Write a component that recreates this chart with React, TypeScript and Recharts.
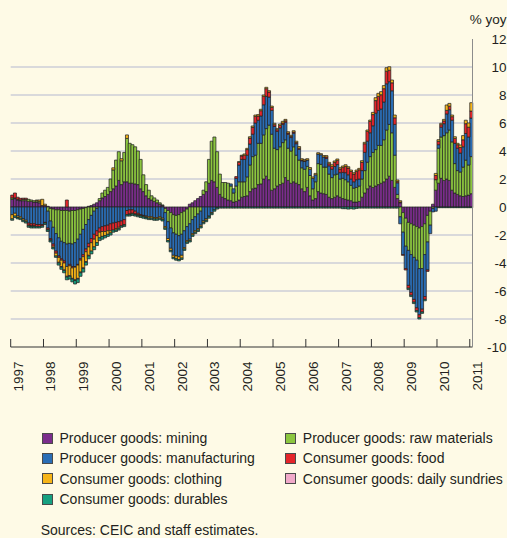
import React from 'react';
import { BarChart, Bar, XAxis, YAxis, CartesianGrid } from 'recharts';

const YEARS = ['1997', '1998', '1999', '2000', '2001', '2002', '2003', '2004', '2005', '2006', '2007', '2008', '2009', '2010', '2011'];
const MONTHS = ['01', '02', '03', '04', '05', '06', '07', '08', '09', '10', '11', '12'];
const Y_TICKS = [-10, -8, -6, -4, -2, 0, 2, 4, 6, 8, 10, 12];
const GRID_VALUES = [-8, -6, -4, -2, 2, 4, 6, 8, 10];

// monthly contributions, % yoy, Jan 1997 - Jan 2011
const mining = [
  0.55, 0.6, 0.5, 0.45, 0.45, 0.45, 0.4, 0.4, 0.35, 0.35, 0.3, 0.1,
  0.1, 0.05, -0.1, -0.15, -0.2, -0.2, -0.25, -0.25, -0.25, -0.3, -0.25, -0.25,
  -0.2, -0.15, -0.1, -0.05, 0.05, 0.1, 0.2, 0.3, 0.45, 0.65, 0.75, 0.9,
  1.1, 1.3, 1.5, 1.9, 1.6, 1.8, 1.8, 1.7, 1.7, 1.65, 1.6, 1.3,
  1.1, 0.8, 0.6, 0.5, 0.4, 0.3, 0.2, 0.1, -0.1, -0.25, -0.4, -0.55,
  -0.6, -0.55, -0.4, -0.3, -0.15, 0.2, 0.3, 0.45, 0.6, 0.75, 0.9, 1.1,
  1.7, 1.9, 1.8, 1.4, 0.9, 0.7, 0.6, 0.5, 0.45, 0.35, 0.4, 0.5,
  0.7, 0.75, 0.8, 1.1, 1.3, 1.35, 1.6, 1.65, 2.0, 2.2, 1.95, 1.2,
  1.3, 1.5, 1.6, 1.7, 2.1, 1.9, 1.7, 1.8, 1.7, 1.6, 1.3, 1.1,
  1.4, 0.8, 0.5, 0.6, 1.1, 1.0, 0.95, 0.9, 0.7, 0.6, 0.7, 0.8,
  0.7, 0.6, 0.55, 0.5, 0.45, 0.35, 0.35, 0.4, 0.7, 1.0, 1.3, 1.5,
  1.4, 1.5, 1.6, 1.7, 1.8, 2.0, 2.2, 1.9, 1.4, 0.6, 0.3, -0.4,
  -0.8, -1.1, -1.2, -1.3, -1.4, -1.5, -1.4, -1.2, -0.6, -0.3, 0.2, 1.2,
  1.7, 2.05, 1.9, 2.0, 1.9, 1.2, 1.0, 0.9, 0.8, 0.75, 0.8, 0.85,
  0.95,
];

const rawMaterials = [
  0.1, 0.05, 0.05, 0.05, 0.1, 0.1, 0.15, 0.1, 0.1, 0.1, 0.1, 0,
  0, -0.3, -0.9, -1.3, -1.7, -2.0, -2.2, -2.3, -2.4, -2.3, -2.4, -2.3,
  -2.1, -1.8, -1.5, -1.2, -0.9, -0.6, -0.3, -0.1, 0.15, 0.35, 0.45, 0.5,
  0.9, 1.35, 1.85, 2.05, 1.7, 2.1, 3.1, 2.85, 2.75, 2.65, 2.4, 2.1,
  1.2, 0.8, 0.6, 0.3, 0.25, 0.2, 0.1, 0.05, -0.3, -0.8, -1.1, -1.3,
  -1.35, -1.5, -1.55, -1.4, -1.25, -1.2, -0.9, -0.7, -0.5, -0.3, 0.3, 0.7,
  1.7, 2.8, 3.2, 2.55, 1.45, 1.05, 1.15, 1.2, 1.05, 0.65, 1.1, 1.3,
  1.1, 1.05, 1.35, 1.9, 2.3, 2.35, 2.95, 2.9, 3.15, 3.4, 3.9, 4.0,
  2.9, 2.6, 2.7, 2.9, 2.7, 2.3, 2.3, 2.5, 2.0, 1.75, 1.5, 1.6,
  1.5, 1.45, 0.8, 1.2, 2.0, 2.05, 1.9, 1.95, 1.65, 1.5, 1.6, 1.55,
  1.3, 1.45, 1.4, 1.3, 1.1, 1.0, 1.05, 1.1, 1.3, 1.6, 1.9, 2.1,
  2.5, 2.6, 2.8, 2.7, 3.0, 3.5, 3.7, 3.4, 2.3, 0.3, -0.7, -1.4,
  -2.0, -2.0, -2.2, -2.3, -2.4, -2.9, -3.0, -2.2, -1.9, -1.0, -0.1, 0.75,
  2.5, 2.95, 3.2, 3.3, 3.6, 3.45, 2.1, 1.7, 1.7, 2.1, 2.55, 2.15,
  2.65,
];

const manufacturing = [
  -0.55, -0.45, -0.65, -0.7, -0.85, -0.95, -1.15, -1.2, -1.2, -1.25, -1.25, -1.25,
  -1.1, -1.2, -1.25, -1.2, -1.25, -1.3, -1.25, -1.3, -1.6, -1.5, -1.6, -1.7,
  -1.8, -1.75, -1.8, -1.75, -1.7, -1.65, -1.65, -1.6, -1.5, -1.4, -1.35, -1.3,
  -1.2, -1.15, -1.1, -1.05, -1.0, -0.9, -0.25, -0.2, -0.2, -0.3, -0.45, -0.55,
  -0.6, -0.65, -0.7, -0.7, -0.75, -0.75, -0.7, -0.8, -1.0, -1.2, -1.45, -1.6,
  -1.55, -1.5, -1.5, -1.2, -1.0, -1.1, -1.0, -1.0, -1.05, -1.0, -1.0, -0.85,
  -0.65, -0.4, -0.2, -0.05, 0, 0, 0, 0, 0.15, 0.3, 0.55, 1.2,
  1.6, 1.6, 1.55, 1.5, 1.6, 2.3, 1.65, 1.95, 2.15, 2.3, 2.0, 1.7,
  1.55, 1.3, 1.35, 1.3, 1.26, 1.0, 0.96, 0.97, 0.82, 0.77, 0.5, 0.55,
  0.45, 0.45, 0.75, 0.5, 0.68, 0.68, 0.72, 0.62, 0.59, 0.6, 0.59, 0.68,
  0.45, 0.42, 0.5, 0.5, 0.45, 0.45, 0.55, 0.5, 0.6, 1.3, 1.5, 1.7,
  1.9, 2.6, 2.5, 2.6, 2.7, 3.3, 3.05, 3.0, 2.2, 0.83, -0.5, -1.6,
  -1.6, -2.5, -2.7, -3.0, -3.4, -3.3, -2.9, -3.0, -2.0, -0.6, -0.25, -0.3,
  0.25, 0.7, 0.85, 1.35, 1.45, 1.55, 1.45, 1.6, 1.35, 1.45, 1.9, 2.0,
  2.75,
];

const food = [
  0.2, 0.35, 0.15, 0.12, 0.08, 0.08, -0.15, -0.15, -0.15, -0.15, -0.15, -0.1,
  -0.05, -0.1, -0.1, -0.15, -0.15, -0.1, -0.1, -0.15, 0.5, -0.1, -0.1, -0.05,
  -0.05, -0.1, -0.15, -0.2, -0.25, -0.3, -0.35, -0.35, -0.3, -0.35, -0.4, -0.4,
  -0.5, -0.5, -0.45, -0.4, -0.35, -0.35, -0.3, -0.3, -0.25, -0.2, -0.1, -0.05,
  -0.05, -0.05, 0, 0, 0, 0, 0, 0, 0, 0, 0, 0,
  0, 0, 0, 0, 0, 0, 0, 0, 0, 0, 0, 0,
  0, 0, 0, 0, 0, 0, 0, 0, 0, 0, 0.12, 0.2,
  0.25, 0.3, 0.4, 0.42, 0.49, 0.47, 0.3, 0.38, 0.6, 0.55, 0.36, 0.21,
  0.13, 0.12, 0.18, 0.1, 0.1, 0.08, 0.08, 0.08, 0.08, 0.08, 0.05, 0.05,
  0, 0, 0, 0, 0, 0, 0, 0.1, 0.15, 0.2, 0.3, 0.3,
  0.26, 0.36, 0.45, 0.48, 0.54, 0.55, 0.59, 0.66, 0.59, 0.62, 0.7, 0.81,
  0.8, 0.9, 1.0, 1.02, 0.95, 0.9, 0.82, 0.57, 0.47, 0.1, 0.05, -0.05,
  -0.1, -0.2, -0.2, -0.2, -0.2, -0.2, -0.2, -0.2, -0.1, 0, 0, 0.3,
  0.24, 0.18, 0.2, 0.25, 0.25, 0.25, 0.35, 0.25, 0.4, 0.5, 0.7, 0.7,
  0.5,
];

const clothing = [
  -0.3, -0.2, -0.1, -0.1, -0.1, -0.1, -0.05, -0.05, -0.05, 0.05, 0.1, 0.45,
  0.1, -0.05, -0.05, -0.1, -0.2, -0.35, -0.45, -0.5, -0.7, -0.7, -0.75, -0.9,
  -0.95, -0.85, -0.8, -0.7, -0.6, -0.6, -0.55, -0.5, -0.4, -0.35, -0.3, -0.25,
  -0.15, 0.15, -0.1, -0.1, 0.15, -0.05, 0.25, -0.05, -0.05, -0.05, -0.05, -0.05,
  -0.05, -0.05, -0.1, -0.1, -0.1, -0.1, -0.1, -0.1, -0.1, -0.15, -0.15, -0.15,
  -0.2, -0.2, -0.2, -0.1, -0.1, -0.1, -0.1, -0.1, -0.1, -0.1, -0.1, -0.1,
  -0.05, -0.05, 0, 0, 0, 0, 0, 0, 0, 0, 0, 0.04,
  0.05, 0.09, 0.09, 0.1, 0.1, 0.1, 0.1, 0.1, 0.1, 0.1, 0.1, 0.1,
  0.1, 0.08, 0.1, 0.12, 0.1, 0.1, 0.08, 0.1, 0.1, 0.12, 0.1, 0.1,
  0.1, 0.12, 0.1, 0.1, 0.1, 0.08, 0.1, 0.1, 0.1, 0.12, 0.1, 0.1,
  0.1, 0.1, 0.12, 0.1, 0.1, 0.1, 0.1, 0.1, 0.12, 0.1, 0.1, 0.1,
  0.16, 0.21, 0.22, 0.22, 0.22, 0.25, 0.25, 0.2, 0.2, 0.1, 0.1, 0,
  0, 0, 0, 0, 0, 0, 0, 0, 0, 0, 0, 0.15,
  0.12, 0.1, 0.11, 0.39, 0.2, 0.12, 0.12, 0.1, 0.18, 0.3, 0.25, 0.3,
  0.6,
];

const dailySundries = [
  0, 0, 0, 0, 0, 0, 0, 0, 0, 0, 0, 0,
  0, 0, 0, 0, 0, -0.05, -0.05, -0.05, -0.05, -0.05, -0.05, -0.05,
  -0.05, -0.05, -0.05, -0.05, -0.05, 0, 0, 0, 0, 0, 0, 0,
  0, 0, 0, 0, 0, 0, 0, 0, 0, 0, 0, 0,
  0, 0, 0, 0, 0, 0, 0, 0, 0, 0, 0, 0,
  0, 0, 0, 0, 0, 0, 0, 0, 0, 0, 0, 0,
  0, 0, 0, 0, 0, 0, 0, 0, 0, 0, 0, 0,
  0, 0, 0, 0, 0, 0, 0, 0, 0, 0, 0, 0,
  0, 0, 0, 0, 0, 0, 0, 0, 0, 0, 0, 0,
  0, 0, 0, 0, 0, 0, 0, 0, 0, 0, 0, 0,
  0, 0, 0, 0, 0, 0, 0, 0, 0, 0, 0, 0,
  0, 0, 0, 0, 0, 0, 0, 0, 0, 0, 0, 0,
  0, 0, 0, 0, 0, 0, 0, 0, 0, 0, 0, 0,
  0, 0, 0, 0, 0, 0, 0, 0, 0, 0, 0, 0,
  0,
];

const durables = [
  -0.1, -0.1, -0.1, -0.1, -0.1, -0.1, -0.1, -0.1, -0.1, -0.1, -0.1, -0.1,
  -0.1, -0.1, -0.1, -0.1, -0.1, -0.15, -0.15, -0.15, -0.2, -0.2, -0.2, -0.25,
  -0.25, -0.25, -0.25, -0.2, -0.2, -0.2, -0.2, -0.2, -0.2, -0.2, -0.15, -0.15,
  -0.15, -0.15, -0.1, -0.1, -0.1, -0.1, -0.1, -0.1, -0.1, -0.1, -0.1, -0.1,
  -0.1, -0.1, -0.1, -0.1, -0.1, -0.1, -0.1, -0.1, -0.1, -0.1, -0.1, -0.1,
  -0.1, -0.1, -0.1, -0.1, -0.1, -0.1, -0.1, -0.1, -0.1, -0.1, -0.1, -0.1,
  -0.1, -0.1, -0.1, -0.1, -0.08, -0.08, -0.08, -0.08, -0.08, -0.08, -0.08, -0.08,
  -0.08, -0.08, -0.08, -0.08, -0.08, -0.08, -0.08, -0.08, -0.08, -0.08, -0.08, -0.08,
  -0.08, -0.08, -0.08, -0.08, -0.08, -0.08, -0.08, -0.08, -0.08, -0.08, -0.08, -0.08,
  -0.08, -0.08, -0.08, -0.08, -0.08, -0.08, -0.08, -0.08, -0.08, -0.08, -0.08, -0.08,
  -0.08, -0.12, -0.12, -0.15, -0.12, -0.15, -0.1, -0.08, -0.08, -0.08, -0.08, -0.08,
  -0.08, -0.08, -0.08, -0.08, -0.08, -0.08, -0.08, -0.08, -0.08, -0.08, 0, 0,
  0, -0.1, -0.1, -0.1, -0.1, -0.1, -0.1, -0.1, 0, 0, 0, 0,
  -0.05, -0.05, -0.05, -0.05, -0.05, -0.05, -0.05, -0.05, -0.05, -0.05, -0.05, -0.05,
  -0.05,
];

const SERIES = [
  { key: 'mining', name: 'Producer goods: mining', color: '#7b2d8c', values: mining },
  { key: 'rawMaterials', name: 'Producer goods: raw materials', color: '#8cc63f', values: rawMaterials },
  { key: 'manufacturing', name: 'Producer goods: manufacturing', color: '#2a6db5', values: manufacturing },
  { key: 'food', name: 'Consumer goods: food', color: '#e5252a', values: food },
  { key: 'clothing', name: 'Consumer goods: clothing', color: '#f6b418', values: clothing },
  { key: 'dailySundries', name: 'Consumer goods: daily sundries', color: '#f1a9c9', values: dailySundries },
  { key: 'durables', name: 'Consumer goods: durables', color: '#16a080', values: durables },
];

// legend columns as laid out in the reference
const LEGEND_LEFT = ['mining', 'manufacturing', 'clothing', 'durables'];
const LEGEND_RIGHT = ['rawMaterials', 'food', 'dailySundries'];

const months: string[] = [];
YEARS.forEach((y) => MONTHS.forEach((m) => months.push(`${y}-${m}`)));

const data = mining.map((_, i) => {
  const row: Record<string, number | string> = { month: months[i] };
  SERIES.forEach((s) => {
    row[s.key] = s.values[i];
  });
  return row;
});

const yearTicks = YEARS.map((y) => `${y}-01`);

const FONT = '"Liberation Sans", Arial, Helvetica, sans-serif';
const TEXT = '#231f20';
const BG = '#fefae6';
const PLOT_LEFT = 10.7;
const PLOT_RIGHT = 472.5;
const AXIS_Y = 347;
const HALF_BAND = (PLOT_RIGHT - PLOT_LEFT) / mining.length / 2;

const YearTick = (props: any) => {
  const { x, payload } = props;
  const tx = x - HALF_BAND;
  const lx = tx + 12;
  const ly = 361.5;
  return (
    <g>
      <line x1={tx} x2={tx} y1={AXIS_Y} y2={AXIS_Y - 8} stroke="#333" strokeWidth={1} />
      <text
        x={lx}
        y={ly}
        transform={`rotate(-90 ${lx} ${ly})`}
        textAnchor="end"
        fontSize={13.5}
        fill={TEXT}
        fontFamily={FONT}
      >
        {String(payload.value).slice(0, 4)}
      </text>
    </g>
  );
};

const ValueTick = (props: any) => {
  const { y, payload } = props;
  return (
    <text x={506.5} y={y} dy={4.7} textAnchor="end" fontSize={13.5} fill={TEXT} fontFamily={FONT}>
      {payload.value}
    </text>
  );
};

const byKey = (k: string) => SERIES.find((s) => s.key === k)!;

const LegendItem = ({ k, left, top }: { k: string; left: number; top: number }) => {
  const s = byKey(k);
  return (
    <div style={{ position: 'absolute', left, top, height: 20, display: 'flex', alignItems: 'center' }}>
      <div style={{ width: 9, height: 9, background: s.color, border: '1px solid #4a4a4a', marginRight: 7 }} />
      <span style={{ fontSize: 14, lineHeight: '20px', color: TEXT, whiteSpace: 'nowrap' }}>{s.name}</span>
    </div>
  );
};

const ROW_TOPS = [428, 448.3, 468.7, 489];

export default function App() {
  return (
    <div
      style={{
        position: 'absolute',
        left: 0,
        top: 0,
        width: 507,
        height: 538,
        background: BG,
        overflow: 'hidden',
        fontFamily: FONT,
      }}
    >
      <div style={{ position: 'absolute', right: 0.5, top: 12.3, fontSize: 13.5, lineHeight: '16px', color: TEXT }}>
        % yoy
      </div>

      <div style={{ position: 'absolute', left: 0, top: 0 }}>
        <BarChart
          width={507}
          height={420}
          data={data}
          margin={{ top: 39, right: 0, bottom: 0, left: PLOT_LEFT }}
          barCategoryGap={0}
          barGap={0}
          stackOffset="sign"
        >
          <CartesianGrid vertical={false} horizontalValues={GRID_VALUES} stroke="#d9d9db" strokeWidth={2} />
          <XAxis
            dataKey="month"
            ticks={yearTicks}
            interval={0}
            tick={<YearTick />}
            tickLine={false}
            axisLine={{ stroke: '#333', strokeWidth: 1 }}
            height={73}
          />
          <YAxis
            orientation="right"
            domain={[-10, 12]}
            ticks={Y_TICKS}
            interval={0}
            allowDataOverflow
            tickLine={false}
            axisLine={{ stroke: '#8c8c8c', strokeWidth: 1 }}
            width={507 - PLOT_RIGHT}
            tick={<ValueTick />}
          />
          {SERIES.map((s) => (
            <Bar
              key={s.key}
              dataKey={s.key}
              name={s.name}
              stackId="a"
              fill={s.color}
              stroke="#242424"
              strokeWidth={0.75}
              isAnimationActive={false}
            />
          ))}
        </BarChart>
      </div>

      {LEGEND_LEFT.map((k, i) => (
        <LegendItem key={k} k={k} left={41.5} top={ROW_TOPS[i]} />
      ))}
      {LEGEND_RIGHT.map((k, i) => (
        <LegendItem key={k} k={k} left={284.8} top={ROW_TOPS[i]} />
      ))}

      <div style={{ position: 'absolute', left: 40.7, top: 520, fontSize: 14, lineHeight: '20px', color: TEXT }}>
        Sources: CEIC and staff estimates.
      </div>
    </div>
  );
}
